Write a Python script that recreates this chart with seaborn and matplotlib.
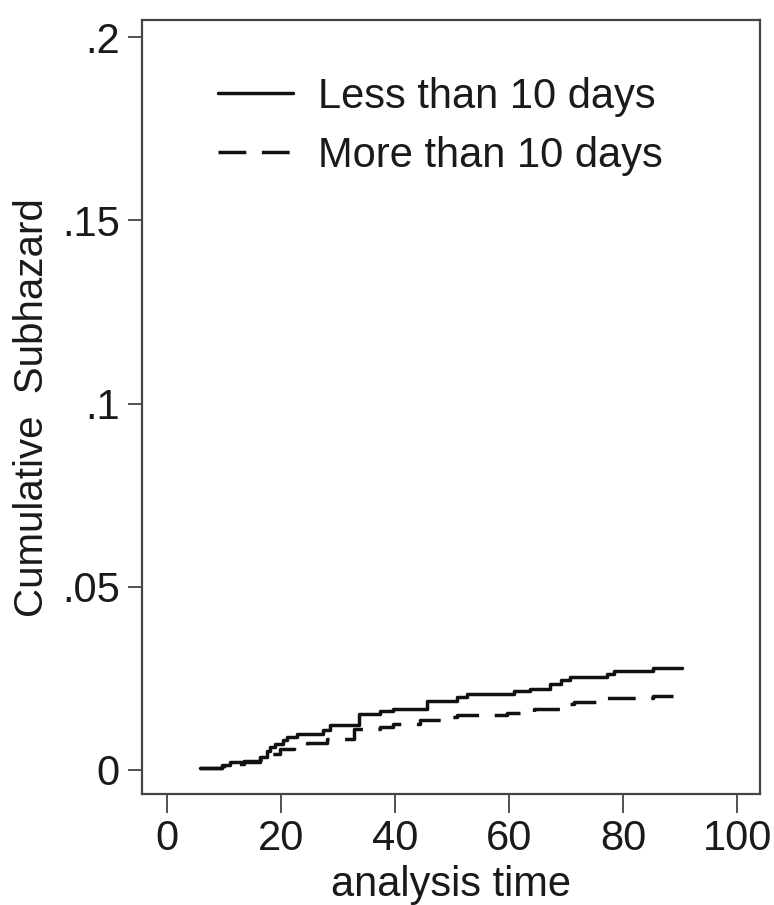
import matplotlib
matplotlib.use("Agg")
import matplotlib.pyplot as plt
import seaborn as sns
import pandas as pd

# cumulative subhazard step functions
t_less = [5.8, 9.6, 11.0, 13.4, 16.3, 17.5, 18.1, 18.9, 20.4, 21.0, 22.7, 27.4, 28.6, 33.6,
          37.4, 39.7, 45.6, 50.8, 52.6, 60.8, 63.7, 67.2, 69.0, 70.7, 77.1, 78.3, 85.3, 90.3]
y_less = [0.0005, 0.0012, 0.0020, 0.0025, 0.0035, 0.0050, 0.0062, 0.0071, 0.0080, 0.0090,
          0.0097, 0.0110, 0.0122, 0.0152, 0.0160, 0.0167, 0.0187, 0.0200, 0.0208, 0.0215,
          0.0220, 0.0235, 0.0245, 0.0254, 0.0262, 0.0269, 0.0278, 0.0278]

t_more = [5.8, 9.6, 11.0, 13.4, 16.3, 18.1, 19.8, 22.2, 24.5, 28.0, 32.7, 37.4, 39.7, 44.4,
          49.1, 50.8, 59.6, 64.3, 69.5, 71.3, 76.5, 85.3, 88.8]
y_more = [0.0005, 0.0010, 0.0015, 0.0020, 0.0030, 0.0044, 0.0058, 0.0064, 0.0073, 0.0085,
          0.0112, 0.0117, 0.0126, 0.0135, 0.0143, 0.0149, 0.0155, 0.0165, 0.0180, 0.0186,
          0.0197, 0.0201, 0.0201]

labels = ["Less than 10 days", "More than 10 days"]
xticks = [0, 20, 40, 60, 80, 100]
yticks = [0, 0.05, 0.1, 0.15, 0.2]
yticklabels = ["0", ".05", ".1", ".15", ".2"]

sns.set_style("white")
plt.rcParams['font.family'] = ['Liberation Sans', 'DejaVu Sans']

fig = plt.figure(figsize=(7.74, 9.05), dpi=100)
ax = fig.add_axes([0.1835, 0.1227, 0.7985, 0.855])

df_less = pd.DataFrame({"t": t_less, "y": y_less})
df_more = pd.DataFrame({"t": t_more, "y": y_more})
sns.lineplot(data=df_less, x="t", y="y", ax=ax, color="#111111", lw=2.5,
             drawstyle="steps-post", label=labels[0])
sns.lineplot(data=df_more, x="t", y="y", ax=ax, color="#111111", lw=2.5,
             drawstyle="steps-post", linestyle=(0, (8, 4.5)), label=labels[1])

ax.set_xlim(-4.4, 104)
ax.set_ylim(-0.0066, 0.2047)
ax.set_xticks(xticks)
ax.set_yticks(yticks)
ax.set_yticklabels(yticklabels)
ax.tick_params(axis="x", length=14, width=1.2, color="#333333", labelsize=30, pad=4,
               bottom=True, direction="out", labelcolor="#1a1a1a")
ax.tick_params(axis="y", length=10, width=1.2, color="#333333", labelsize=30, pad=6,
               left=True, direction="out", labelcolor="#1a1a1a")
for s in ax.spines.values():
    s.set_color("#444444")
    s.set_linewidth(1.6)

ax.set_xlabel("analysis time", fontsize=30, labelpad=4, color="#1a1a1a")
ax.set_ylabel("Cumulative  Subhazard", fontsize=29, labelpad=8, color="#1a1a1a")

leg = ax.legend(loc="upper left", bbox_to_anchor=(0.063, 0.975), frameon=False, fontsize=30,
                handlelength=1.8, handletextpad=0.6, labelspacing=0.45)
for t in leg.get_texts():
    t.set_color("#1a1a1a")

fig.savefig("out.png", dpi=100)
